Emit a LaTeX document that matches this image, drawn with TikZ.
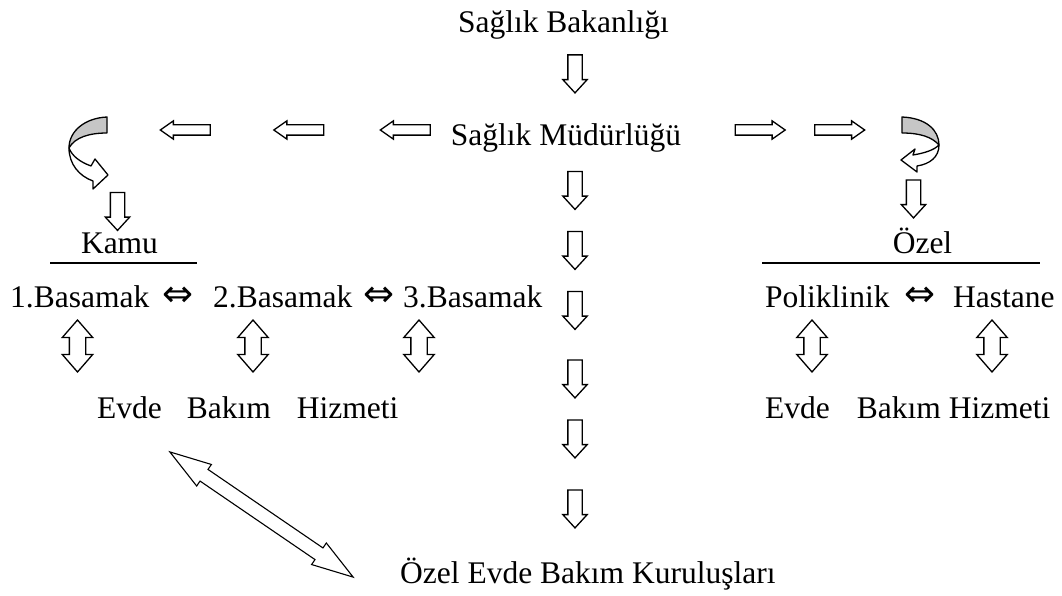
\documentclass[tikz,border=0pt]{standalone}
\usepackage{fontspec}
\setmainfont{Liberation Serif}
\newfontfamily\symfont{DejaVu Sans}
\usetikzlibrary{shapes.arrows}

\tikzset{
  lbl/.style={font=\fontsize{31.5}{36}\selectfont, inner sep=0pt},
  eqv/.style={font=\fontsize{37}{40}\selectfont\symfont, inner sep=0pt},
  blk/.style={draw, fill=white, line width=1.3pt, minimum width=0pt},
  darr/.style={blk, single arrow, inner sep=6.5pt, single arrow head extend=5pt,
    single arrow tip angle=85, minimum height=38pt, shape border rotate=270},
  larr/.style={blk, single arrow, inner sep=4.5pt, single arrow head extend=4pt,
    single arrow tip angle=70, minimum height=50pt, shape border rotate=180},
  rarr/.style={larr, shape border rotate=0},
  udarr/.style={blk, double arrow, inner sep=7.5pt, double arrow head extend=7pt,
    double arrow tip angle=82, minimum height=52pt, shape border rotate=90},
  diagarr/.style={blk, double arrow, line width=1.1pt, inner sep=6.5pt,
    double arrow head extend=6pt, double arrow tip angle=35, minimum height=222pt},
  band/.style={draw, line width=1.3pt, fill=gray!45, line join=round},
  bandw/.style={draw, line width=1.3pt, fill=white, line join=round}
}

\begin{document}
\begin{tikzpicture}[x=1pt, y=-1pt]
    \useasboundingbox (0,0) rectangle (1062,596);

    \node[lbl, anchor=base] (bakan) at (563.5,33) {Sağlık Bakanlığı};
    \node[lbl, anchor=base] (mudur) at (566,146) {Sağlık Müdürlüğü};
    \node[lbl, anchor=base] (kamu) at (119.5,253) {Kamu};
    \node[lbl, anchor=base] (ozel) at (922.5,253) {Özel};
    \node[lbl, anchor=base west] (bas1) at (10,307) {1.Basamak};
    \node[eqv, anchor=base] (eq12) at (177.5,306) {⇔};
    \node[lbl, anchor=base west] (bas2) at (213,307) {2.Basamak};
    \node[eqv, anchor=base] (eq23) at (378.5,306) {⇔};
    \node[lbl, anchor=base west] (bas3) at (403,307) {3.Basamak};
    \node[lbl, anchor=base west] (polik) at (765,307) {Poliklinik};
    \node[eqv, anchor=base] (eqph) at (920,306) {⇔};
    \node[lbl, anchor=base west] (hast) at (953,307) {Hastane};
    \node[lbl, anchor=base west] (evdeK) at (97,418) {Evde\hspace{25pt}Bakım\hspace{26pt}Hizmeti};
    \node[lbl, anchor=base west] (evdeO) at (765,418) {Evde\hspace{27pt}Bakım Hizmeti};
    \node[lbl, anchor=base west] (kurulus) at (400,583) {Özel Evde Bakım Kuruluşları};

    % lines under Kamu / Özel
    \coordinate (kamuL) at (50,263);
    \coordinate (kamuR) at (197,263);
    \coordinate (ozelL) at (762,263);
    \coordinate (ozelR) at (1040,263);
    \draw[line width=1.2pt] (kamuL) -- (kamuR);
    \draw[line width=1.2pt] (ozelL) -- (ozelR);

    % main column
    \node[darr] (d0) at (575,70) {};
    \foreach \y [count=\i] in {186.5,246.5,306.5,375,435,505}
        \node[darr] (d\i) at (575,\y) {};

    % side arrows
    \node[larr] (l1) at (409,130) {};
    \node[larr] (l2) at (302.5,130) {};
    \node[larr] (l3) at (189,130) {};
    \node[rarr] (r1) at (756.5,130) {};
    \node[rarr] (r2) at (836,130) {};

    % twisted arrows
    \draw[band] (107,117) .. controls (85,118) and (69,131) .. (69,148)
        .. controls (75,137) and (90,133) .. (107,133) -- cycle;
    \draw[bandw] (69,148) .. controls (69,164) and (79,176) .. (93,181)
        -- (93,189) -- (108,175) -- (95,159) -- (91,166)
        .. controls (80,162) and (72,156) .. (69,148) -- cycle;
    \draw[band] (902,117) .. controls (926,118) and (939,130) .. (939,145)
        .. controls (932,137) and (920,133) .. (902,133) -- cycle;
    \draw[bandw] (939,145) .. controls (939,157) and (930,164) .. (917,166)
        -- (917,172) -- (901,160) -- (915,149) -- (913,155)
        .. controls (925,153) and (934,150) .. (939,145) -- cycle;

    \node[darr] (dk) at (117.5,207.5) {};
    \node[darr] (do) at (913.5,195) {};

    % up-down arrows
    \node[udarr] (u1) at (77.5,346) {};
    \node[udarr] (u2) at (253,346) {};
    \node[udarr] (u3) at (419,346) {};
    \node[udarr] (u4) at (812,346) {};
    \node[udarr] (u5) at (992,346) {};

    % diagonal link
    \coordinate (dgA) at (170,452);
    \coordinate (dgB) at (353,577);
    \path (dgA) -- node[diagarr, sloped] (dg) {} (dgB);
\end{tikzpicture}
\end{document}
